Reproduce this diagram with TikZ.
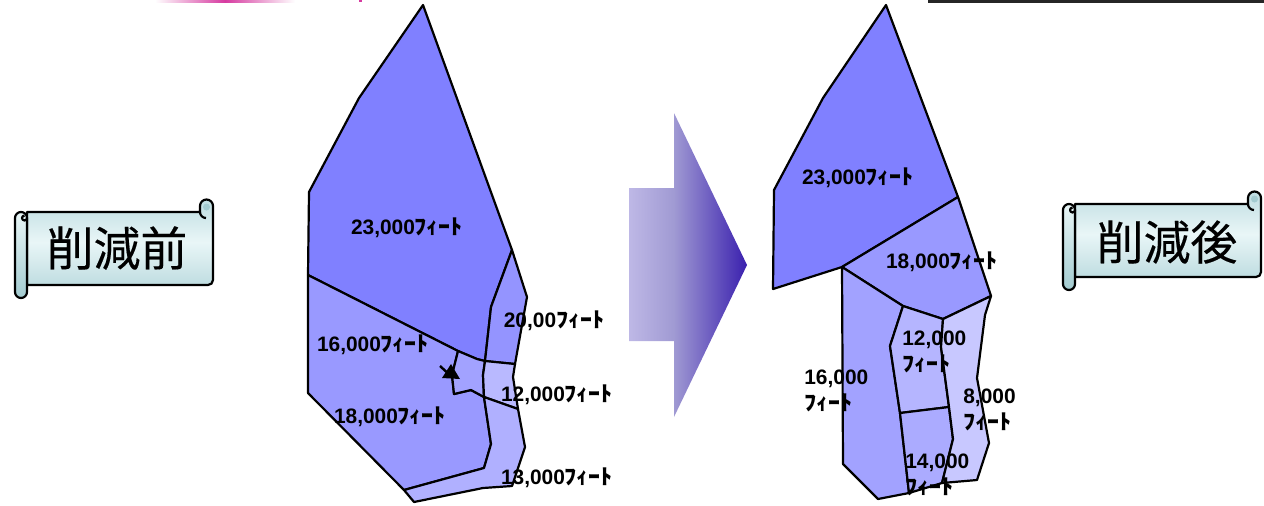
\documentclass[tikz,border=0pt]{standalone}
\usepackage{fontspec}
\usepackage{xcolor}
\usepackage{graphicx}
\usepackage{tikz}
\setmainfont{Liberation Sans}
\newfontfamily\cjk{Noto Sans CJK JP}
\newfontfamily\cjkbanner[FakeBold=0.3]{Noto Sans CJK JP}
\definecolor{arealight}{HTML}{8080FF}
\definecolor{bannerlight}{HTML}{E9F6F7}
\definecolor{bannerdark}{HTML}{BFDDE1}
\definecolor{rolldark}{HTML}{A3CBD0}
\definecolor{arrowstart}{HTML}{BEB8E6}
\definecolor{arrowmid}{HTML}{A09AD3}
\definecolor{arrowend}{HTML}{3A20AE}
\definecolor{edgepink}{HTML}{D63AA0}
\pgfdeclarehorizontalshading{arrowshade}{100bp}{color(0bp)=(arrowstart); color(25bp)=(arrowstart); color(44bp)=(arrowmid); color(75bp)=(arrowend); color(100bp)=(arrowend)}
\newcommand{\fitext}{\scalebox{1.13}[1]{\cjk\fontsize{12.1pt}{14.6pt}\selectfont ﾌｨｰﾄ}}

\begin{document}
\begin{tikzpicture}[
  x=0.02cm, y=-0.02cm,
  parcel/.style={draw=black, line width=1.25pt, line join=round},
  dist/.style={font=\fontsize{11.9pt}{14.7pt}\selectfont\bfseries, inner sep=0pt, align=left},
  bannertext/.style={font=\cjkbanner\fontsize{26.7pt}{28pt}\selectfont, inner sep=0pt},
  bannerline/.style={draw=black, line width=1.25pt, line join=round},
  banner/.pic={
    \path[bannerline, top color=bannerdark, bottom color=bannerdark, middle color=bannerlight]
      (12,0) -- (185,0) -- (185,-6) arc[start angle=180, end angle=360, radius=6.5]
      -- (198,68) arc[start angle=0, end angle=90, radius=5] -- (12,73) -- cycle;
    \fill[rolldark] (191.5,-5) circle (3.5);
    \draw[bannerline] (185,0) arc[start angle=180, end angle=90, radius=6];
    \path[bannerline, top color=bannerlight, bottom color=rolldark]
      (0,6) arc[start angle=180, end angle=360, radius=6] -- (12,80)
      arc[start angle=0, end angle=180, radius=6] -- cycle;
    \draw[bannerline] (12,6) arc[start angle=0, end angle=270, radius=2.5];
  }
]
  \useasboundingbox (0,0) rectangle (1264,505);

  % cut-off shapes on the top edge
  \shade[left color=white, right color=white, middle color=edgepink] (155,0) rectangle (295,2);
  \fill[edgepink] (359,0) rectangle (362,2);
  \fill[black!85] (928,0) rectangle (1264,3);

  % before
  \draw[parcel, fill=arealight] (423,5) -- (359,98) -- (309,192) -- (308,275) -- (458,351) -- (477,359)
    -- (485,361) -- (491,307) -- (512,250) -- cycle;
  \draw[parcel, fill=arealight!84!white] (512,250) -- (527,297) -- (515,364) -- (485,361) -- (491,307) -- cycle;
  \draw[parcel, fill=arealight!80!white] (308,275) -- (308,393) -- (404,490) -- (484,468) -- (491,444)
    -- (484,397) -- (471,390) -- (454,394) -- (452,375) -- (458,351) -- cycle;
  \draw[parcel, fill=arealight!73!white] (458,351) -- (477,359) -- (485,361) -- (483,375) -- (484,397)
    -- (471,390) -- (454,394) -- (452,375) -- cycle;
  \draw[parcel, fill=arealight!55!white] (485,361) -- (515,364) -- (513,377) -- (518,409) -- (484,397) -- (483,375) -- cycle;
  \draw[parcel, fill=arealight!62!white] (518,409) -- (525,447) -- (512,486) -- (483,488) -- (414,502)
    -- (404,490) -- (484,468) -- (491,444) -- (484,397) -- cycle;
  \fill (451,364) -- (442,378) -- (460,379) -- cycle;
  \draw[line width=1.4pt] (440,366) -- (451,376);

  % after
  \draw[parcel, fill=arealight] (886,5) -- (823,98) -- (774,190) -- (773,289) -- (842,267) -- (958,197) -- cycle;
  \draw[parcel, fill=arealight!80!white] (842,267) -- (958,197) -- (991,296) -- (943,319) -- (903,306) -- cycle;
  \draw[parcel, fill=arealight!73!white] (842,267) -- (903,306) -- (890,346) -- (900,413) -- (909,493)
    -- (878,499) -- (843,464) -- cycle;
  \draw[parcel, fill=arealight!58!white] (903,306) -- (943,319) -- (941,347) -- (949,407) -- (900,413) -- (890,346) -- cycle;
  \draw[parcel, fill=arealight!66!white] (900,413) -- (949,407) -- (953,439) -- (942,483) -- (909,493) -- cycle;
  \draw[parcel, fill=arealight!43!white] (943,319) -- (991,296) -- (985,315) -- (977,378) -- (989,443) -- (977,480)
    -- (942,483) -- (953,439) -- (949,407) -- (941,347) -- cycle;

  % big arrow
  \shade[shading=arrowshade] (629,188) -- (674,188) -- (674,113) -- (747,265) -- (674,417) -- (674,341) -- (629,341) -- cycle;

  % banners
  \pic at (15,212) {banner};
  \pic at (1063,204) {banner};
  \node[bannertext] (before) at (117,248) {削減前};
  \node[bannertext] (after) at (1167,242) {削減後};

  % labels before
  \node[dist] (b23) at (407,228) {23,000\fitext};
  \node[dist] (b20) at (554,321) {20,00\fitext};
  \node[dist] (b16) at (373,345) {16,000\fitext};
  \node[dist] (b18) at (390,417) {18,000\fitext};
  \node[dist] (b12) at (557,395) {12,000\fitext};
  \node[dist] (b13) at (557,478) {13,000\fitext};

  % labels after
  \node[dist] (a23) at (858,178) {23,000\fitext};
  \node[dist] (a18) at (942,262) {18,000\fitext};
  \node[dist, anchor=west] (a12) at (902,352) {12,000\\\fitext};
  \node[dist, anchor=west] (a16) at (804,391) {16,000\\\fitext};
  \node[dist, anchor=west] (a8) at (963,410) {8,000\\\fitext};
  \node[dist, anchor=west] (a14) at (905,475) {14,000\\\fitext};
\end{tikzpicture}
\end{document}
